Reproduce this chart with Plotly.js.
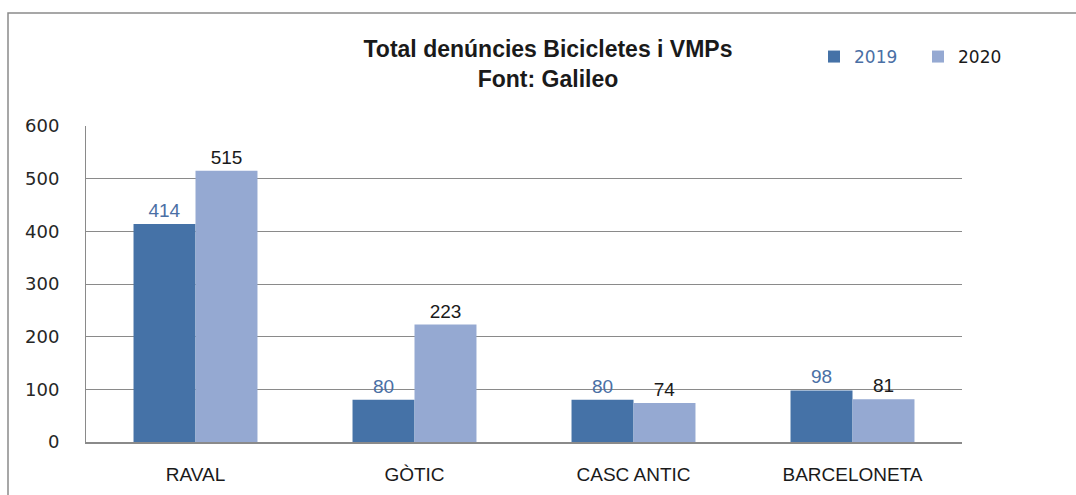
<!DOCTYPE html>
<html>
<head>
<meta charset="utf-8">
<script src="https://cdn.plot.ly/plotly-3.0.1.min.js"></script>
<style>
  html, body { margin: 0; padding: 0; background: #fff; }
  #chart { width: 1076px; height: 495px; }
</style>
</head>
<body>
<div id="chart"></div>
<script>
// Data
const categories = ['RAVAL', 'GÒTIC', 'CASC ANTIC', 'BARCELONETA'];
const values2019 = [414, 80, 80, 98];
const values2020 = [515, 223, 74, 81];
const seriesNames = ['2019', '2020'];
const yTicks = [0, 100, 200, 300, 400, 500, 600];

const color2019 = '#4572A7';
const color2020 = '#95A9D2';
const label2019 = '#4A6FA5';

const traces = [
  {
    type: 'bar',
    name: '<span style="color:' + label2019 + '">' + seriesNames[0] + '</span>',
    x: categories,
    y: values2019,
    text: values2019.map(String),
    textposition: 'outside',
    cliponaxis: false,
    textfont: { family: 'Liberation Sans, Arial, sans-serif', size: 19, color: label2019 },
    marker: { color: color2019 },
    hoverinfo: 'x+y'
  },
  {
    type: 'bar',
    name: seriesNames[1],
    x: categories,
    y: values2020,
    text: values2020.map(String),
    textposition: 'outside',
    cliponaxis: false,
    textfont: { family: 'Liberation Sans, Arial, sans-serif', size: 19, color: '#1a1a1a' },
    marker: { color: color2020 },
    hoverinfo: 'x+y'
  }
];

// plot area in pixels: left 86, right 962, top 126, bottom 442
const L = 86, R = 962, T = 126, B = 442, W = 1076, H = 495;
const pw = R - L, ph = B - T;
const px = v => (v - L) / pw;
const py = v => (B - v) / ph;

const layout = {
  width: W,
  height: H,
  margin: { l: L, r: W - R, t: T, b: H - B, pad: 0, autoexpand: false },
  paper_bgcolor: '#ffffff',
  plot_bgcolor: '#ffffff',
  barmode: 'group',
  bargap: 0.434,
  bargroupgap: 0,
  showlegend: true,
  title: {
    text: '<b>Total denúncies Bicicletes i VMPs<br>Font: Galileo</b>',
    font: { family: 'Liberation Sans, Arial, sans-serif', size: 23, color: '#1a1a1a' },
    x: px(548),
    xref: 'paper',
    xanchor: 'center',
    y: 1 - 57 / H,
    yref: 'container',
    yanchor: 'middle'
  },
  legend: {
    orientation: 'h',
    x: px(814),
    xanchor: 'left',
    y: py(57),
    yanchor: 'middle',
    font: { family: 'DejaVu Sans, Verdana, sans-serif', size: 17, color: '#1a1a1a' },
    entrywidth: 59,
    entrywidthmode: 'pixels',
    bgcolor: 'rgba(0,0,0,0)',
    traceorder: 'normal'
  },
  xaxis: {
    type: 'category',
    showgrid: false,
    showline: true,
    linecolor: '#8a8a8a',
    linewidth: 1.5,
    ticks: '',
    ticklabelstandoff: 15,
    tickfont: { family: 'Liberation Sans, Arial, sans-serif', size: 19, color: '#1a1a1a' },
    fixedrange: true
  },
  yaxis: {
    range: [0, 600],
    tickvals: yTicks,
    ticktext: yTicks.map(String),
    showgrid: true,
    gridcolor: '#8a8a8a',
    gridwidth: 1,
    zeroline: false,
    showline: true,
    linecolor: '#8a8a8a',
    linewidth: 1,
    ticks: '',
    ticklabelstandoff: 22,
    tickfont: { family: 'DejaVu Sans, Verdana, sans-serif', size: 18, color: '#262626' },
    fixedrange: true
  },
  shapes: [
    {
      type: 'rect',
      xref: 'paper', yref: 'paper',
      x0: px(8), x1: px(1090),
      y0: py(510), y1: py(13),
      line: { color: '#8a8a8a', width: 1.5 },
      fillcolor: 'rgba(0,0,0,0)',
      layer: 'below'
    }
  ]
};

Plotly.newPlot('chart', traces, layout, { displayModeBar: false, staticPlot: true });
</script>
</body>
</html>
